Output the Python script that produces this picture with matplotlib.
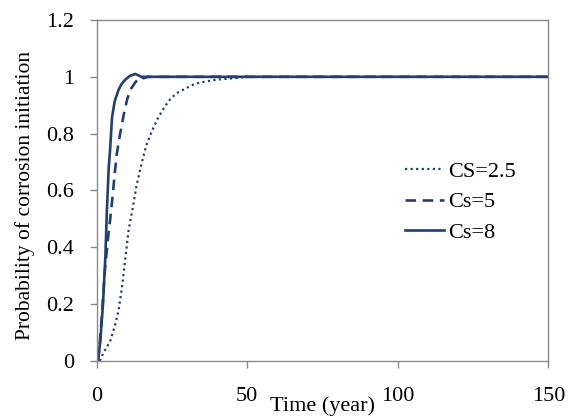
import matplotlib.pyplot as plt

plt.rcParams["font.family"] = ["Liberation Serif", "DejaVu Serif"]

t_cs25 = [1.0, 2.3, 4.5, 6.2, 7.3, 8.4, 9.3, 10.6, 12.0, 13.2, 14.8, 16.5,
          18.4, 19.9, 21.7, 23.3, 24.5, 26.5, 28.8, 31.5, 34.3, 39.9, 46.5,
          50.0, 150.0]
p_cs25 = [0.0, 0.03, 0.07, 0.13, 0.18, 0.26, 0.34, 0.46, 0.54, 0.615, 0.69,
          0.76, 0.81, 0.845, 0.88, 0.905, 0.922, 0.942, 0.955, 0.97, 0.98,
          0.99, 0.996, 1.0, 1.0]

t_cs5 = [0.5, 0.9, 1.8, 2.7, 3.2, 3.75, 4.5, 5.3, 6.0, 6.7, 7.8, 9.0, 10.1,
         11.2, 12.8, 14.5, 150.0]
p_cs5 = [0.0, 0.045, 0.17, 0.315, 0.37, 0.43, 0.50, 0.58, 0.66, 0.73, 0.80,
         0.868, 0.92, 0.955, 0.98, 1.0, 1.0]

t_cs8 = [0.4, 1.2, 2.1, 2.9, 3.4, 4.0, 4.5, 5.1, 6.0, 7.3, 8.3, 9.5, 11.0,
         12.8, 14.5, 15.6, 17.0, 150.0]
p_cs8 = [0.0, 0.07, 0.20, 0.37, 0.53, 0.68, 0.75, 0.857, 0.915, 0.955, 0.975,
         0.99, 1.003, 1.01, 1.002, 0.995, 1.0, 1.0]

labels = ["CS=2.5", "Cs=5", "Cs=8"]
line_color = "#233F6E"
frame_color = "#8a8a8a"

fig = plt.figure(figsize=(5.72, 4.18), dpi=100)
ax = fig.add_axes([0.169, 0.1364, 0.7896, 0.8158])

ax.plot(t_cs25, p_cs25, color=line_color, lw=1.6, linestyle=(0, (1, 1.5)),
        label=labels[0])
ax.plot(t_cs5, p_cs5, color=line_color, lw=1.9, linestyle=(0, (4, 2.5)),
        label=labels[1])
ax.plot(t_cs8, p_cs8, color=line_color, lw=1.9, label=labels[2])

ax.set_xlim(0, 150)
ax.set_ylim(0, 1.2)
ax.set_xticks([0, 50, 100, 150])
ax.set_xticklabels(["0", "50", "100", "150"])
ax.set_yticks([0, 0.2, 0.4, 0.6, 0.8, 1.0, 1.2])
ax.set_yticklabels(["0", "0.2", "0.4", "0.6", "0.8", "1", "1.2"])

for side in ax.spines.values():
    side.set_color(frame_color)
    side.set_linewidth(1.0)
ax.tick_params(axis="both", direction="out", length=5, width=1.0,
               color=frame_color, labelsize=16, labelcolor="black")
ax.tick_params(axis="y", pad=11)
ax.tick_params(axis="x", pad=14)

ax.set_xlabel("Time (year)", fontsize=16)
ax.xaxis.set_label_coords(0.5, -0.104)
ax.set_ylabel("Probability of corrosion initiation", fontsize=15.5)
ax.yaxis.set_label_coords(-0.137, 0.485)

ax.legend(loc="center left", bbox_to_anchor=(0.683, 0.466), frameon=False,
          fontsize=16, handlelength=1.75, handletextpad=0.2,
          labelspacing=0.45, borderpad=0, borderaxespad=0)

fig.savefig("out.png", dpi=100)
